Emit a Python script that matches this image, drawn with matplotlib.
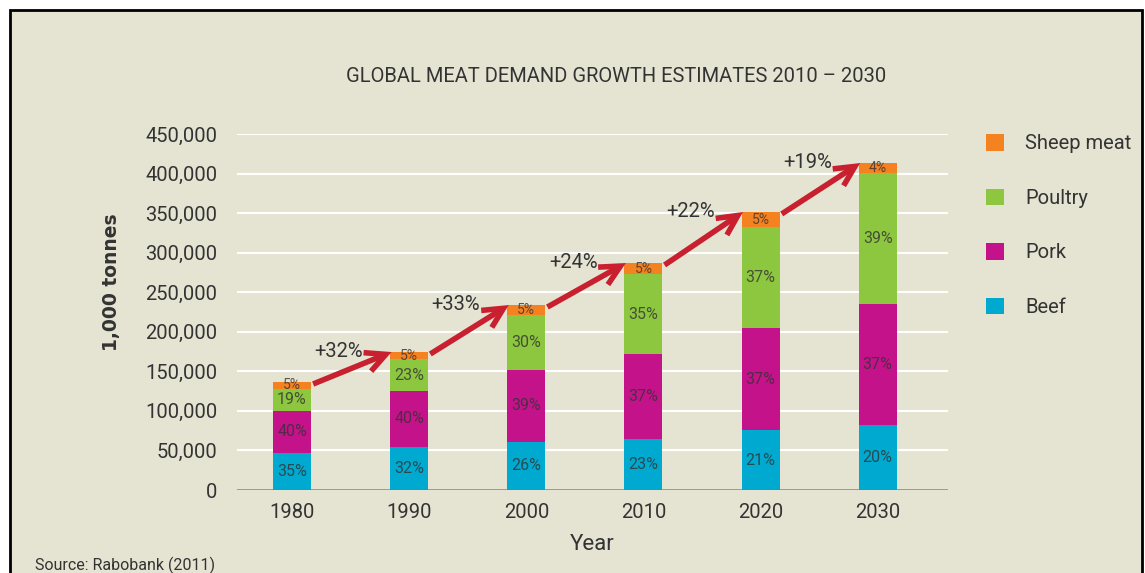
import matplotlib
matplotlib.use("Agg")
import matplotlib.pyplot as plt
from matplotlib.patches import Rectangle, Patch, FancyArrowPatch
import numpy as np

plt.rcParams['font.family'] = ['Roboto', 'DejaVu Sans']

# data (1,000 tonnes)
years = ['1980', '1990', '2000', '2010', '2020', '2030']
beef = [46800, 54400, 60700, 64500, 75800, 82200]
pork = [53100, 70700, 91000, 107400, 129000, 152900]
poultry = [27800, 40500, 69500, 101100, 127600, 165600]
sheep = [8800, 8800, 12600, 13900, 19000, 12600]

beef_pct = ['35%', '32%', '26%', '23%', '21%', '20%']
pork_pct = ['40%', '40%', '39%', '37%', '37%', '37%']
poultry_pct = ['19%', '23%', '30%', '35%', '37%', '39%']
sheep_pct = ['5%', '5%', '5%', '5%', '5%', '4%']
growth = ['+32%', '+33%', '+24%', '+22%', '+19%']

BG = '#e5e4d3'
TXT = '#333333'
colors = {'Beef': '#00a9d0', 'Pork': '#c4138a', 'Poultry': '#8dc63f', 'Sheep meat': '#f58220'}
RED = '#c8202f'

W, H = 1145, 573
fig = plt.figure(figsize=(W / 100, H / 100), dpi=100, facecolor='white')
# beige panel with black frame
fig.patches.append(Rectangle((10 / W, -0.05), (1142 - 10) / W, 1.05 - 10 / H,
                             transform=fig.transFigure, facecolor=BG,
                             edgecolor='black', linewidth=2, zorder=-10))

ax = fig.add_axes([237 / W, 1 - 490 / H, (948 - 237) / W, (490 - 134) / H])
ax.patch.set_alpha(0)

x = np.arange(len(years))
width = 0.325
series = [('Beef', beef, beef_pct), ('Pork', pork, pork_pct),
          ('Poultry', poultry, poultry_pct), ('Sheep meat', sheep, sheep_pct)]
bottom = np.zeros(len(years))
for name, vals, pcts in series:
    vals = np.array(vals, dtype=float)
    ax.bar(x, vals, width, bottom=bottom, color=colors[name], zorder=3, linewidth=0)
    for i in range(len(years)):
        fs = 11.5 if name != 'Sheep meat' else 10
        ax.text(x[i], bottom[i] + vals[i] / 2, pcts[i], ha='center', va='center',
                fontsize=fs, color=TXT, alpha=0.8, zorder=4)
    bottom += vals

totals = bottom
for i in range(len(years) - 1):
    arr = FancyArrowPatch((x[i] + 0.18, totals[i] - 2500), (x[i + 1] - 0.15, totals[i + 1]),
                          arrowstyle='->,head_length=0.6,head_width=0.3',
                          mutation_scale=24, color=RED, linewidth=4,
                          shrinkA=0, shrinkB=0, zorder=5, capstyle='butt', joinstyle='miter')
    ax.add_patch(arr)
    ax.text(x[i] + 0.40, totals[i + 1] + 1000, growth[i], ha='center', va='center',
            fontsize=14.5, color=TXT, zorder=6)

ax.set_xlim(-0.47, 5.6)
ax.set_ylim(0, 450000)
ax.set_yticks(np.arange(0, 450001, 50000))
ax.set_yticklabels([f'{v:,}' for v in range(0, 450001, 50000)])
ax.set_xticks(x)
ax.set_xticklabels(years)
ax.tick_params(axis='both', length=0, labelsize=14.5, colors=TXT)
ax.tick_params(axis='y', pad=14)
ax.tick_params(axis='x', pad=9)
ax.yaxis.grid(True, color='white', linewidth=1.5, zorder=0)
ax.set_axisbelow(True)
for s in ax.spines.values():
    s.set_visible(False)
ax.axhline(0, color='#7a7a72', linewidth=1.8, zorder=4)

ax.set_xlabel('Year', fontsize=16, color=TXT, labelpad=9)
fig.text(112 / W, 1 - 282 / H, '1,000 tonnes', rotation=90, ha='center', va='center',
         fontsize=13.5, color=TXT, family=['DejaVu Sans'], fontweight='semibold')

fig.text(616 / W, 1 - 77 / H, 'GLOBAL MEAT DEMAND GROWTH ESTIMATES 2010 \u2013 2030',
         ha='center', va='center', fontsize=14.5, color=TXT)
fig.text(35 / W, 1 - 565 / H, 'Source: Rabobank (2011)', ha='left', va='center',
         fontsize=11.5, color=TXT)

names = ['Sheep meat', 'Poultry', 'Pork', 'Beef']
handles = [Patch(facecolor=colors[n], edgecolor='none') for n in names]
fig.legend(handles, names, loc='upper left',
           bbox_to_anchor=(986 / W, 1 - 134 / H), frameon=False, fontsize=14.5,
           handlelength=0.9, handleheight=0.9, handletextpad=1.05,
           labelspacing=1.75, borderpad=0, borderaxespad=0, labelcolor=TXT)

fig.savefig('out.png', dpi=100, facecolor='white')
